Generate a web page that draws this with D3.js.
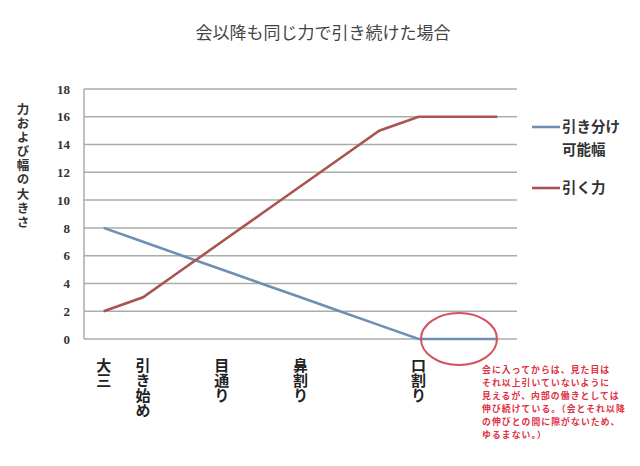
<!DOCTYPE html>
<html><head><meta charset="utf-8">
<script src="https://cdn.jsdelivr.net/npm/d3@7"></script>
<style>body{margin:0;background:#fff;} svg{display:block;}</style>
</head><body>
<svg id="c" width="640" height="466"></svg>
<script>
const categories = ["大三","引き始め","","目通り","","鼻割り","","","口割り","",""];
const widthRange = [8,7,6,5,4,3,2,1,0,0,0];
const pullForce = [2,3,5,7,9,11,13,15,16,16,16];
const yTicks = [0,2,4,6,8,10,12,14,16,18];
const seriesNames = ["引き分け\n可能幅","引く力"];
const titleText = "会以降も同じ力で引き続けた場合";
const yLabel = "力および幅の大きさ";
const noteLines = ["会に入ってからは、見た目は","それ以上引いていないように","見えるが、内部の働きとしては","伸び続けている。（会とそれ以降","の伸びとの間に隙がないため、","ゆるまない。）"];

const font = "'Noto Sans CJK JP','Noto Sans',sans-serif";
const svg = d3.select("#c").style("font-family", font);
const L = 84, R = 517, T = 89, B = 339;
const x = d3.scaleBand().domain(d3.range(categories.length)).range([L, R]);
const y = d3.scaleLinear().domain([0, 18]).range([B, T]);
const cx = i => x(i) + x.bandwidth()/2;

// gridlines
svg.append("g").selectAll("line").data(yTicks).join("line")
  .attr("x1", L).attr("x2", R).attr("y1", d => y(d)).attr("y2", d => y(d))
  .attr("stroke", "#ababab").attr("stroke-width", 1.5);
svg.append("line").attr("x1", L).attr("x2", L).attr("y1", T).attr("y2", B)
  .attr("stroke", "#ababab").attr("stroke-width", 1.5);

// y tick labels
svg.append("g").selectAll("text").data(yTicks).join("text")
  .attr("x", 70).attr("y", d => y(d)).attr("dy", "0.36em")
  .attr("text-anchor", "end").attr("font-size", 13).attr("font-weight", "bold")
  .attr("font-family", "'Liberation Serif','DejaVu Serif',serif")
  .attr("fill", "#333").text(d => d);

// x labels vertical
const xl = svg.append("g");
categories.forEach((c, i) => {
  if (!c) return;
  xl.append("text").attr("x", cx(i)).attr("y", 358)
    .attr("font-size", 15).attr("font-weight", "bold").attr("fill", "#222")
    .style("writing-mode", "vertical-rl")
    .text(c);
});

// lines
const line = d3.line().x((d, i) => cx(i)).y(d => y(d));
svg.append("path").datum(widthRange).attr("d", line).attr("fill", "none")
  .attr("stroke", "#6e8fb2").attr("stroke-width", 2.6);
svg.append("path").datum(pullForce).attr("d", line).attr("fill", "none")
  .attr("stroke", "#a9544f").attr("stroke-width", 2.6);

// ellipse annotation
svg.append("ellipse").attr("cx", (cx(8)+cx(10))/2 + 1).attr("cy", y(0)).attr("rx", 38).attr("ry", 26)
  .attr("fill", "none").attr("stroke", "#d4505a").attr("stroke-width", 2);

// note text
svg.append("g").selectAll("text").data(noteLines).join("text")
  .attr("x", 482).attr("y", (d, i) => 373 + i*12.9)
  .attr("font-size", 8.8).attr("letter-spacing", 1.1).attr("font-weight", "bold").attr("fill", "#e0303f")
  .text(d => d);

// title
svg.append("text").attr("x", 323).attr("y", 39).attr("text-anchor", "middle")
  .attr("font-size", 17).attr("fill", "#444").text(titleText);

// y label vertical
svg.append("text").attr("x", 23).attr("y", 103).attr("font-size", 12.5).attr("font-weight", "bold")
  .attr("letter-spacing", 1.6)
  .attr("fill", "#333").style("writing-mode", "vertical-rl").text(yLabel);

// legend
const lg = svg.append("g");
lg.append("line").attr("x1", 532).attr("x2", 560).attr("y1", 127).attr("y2", 127)
  .attr("stroke", "#6e8fb2").attr("stroke-width", 2.6);
seriesNames[0].split("\n").forEach((t, i) => {
  lg.append("text").attr("x", 562).attr("y", 127 + i*23).attr("dy", "0.36em")
    .attr("font-size", 14.5).attr("font-weight", "bold").attr("fill", "#333").text(t);
});
lg.append("line").attr("x1", 532).attr("x2", 560).attr("y1", 188).attr("y2", 188)
  .attr("stroke", "#a9544f").attr("stroke-width", 2.6);
lg.append("text").attr("x", 562).attr("y", 188).attr("dy", "0.36em")
  .attr("font-size", 14.5).attr("font-weight", "bold").attr("fill", "#333").text(seriesNames[1]);
</script>
</body></html>
